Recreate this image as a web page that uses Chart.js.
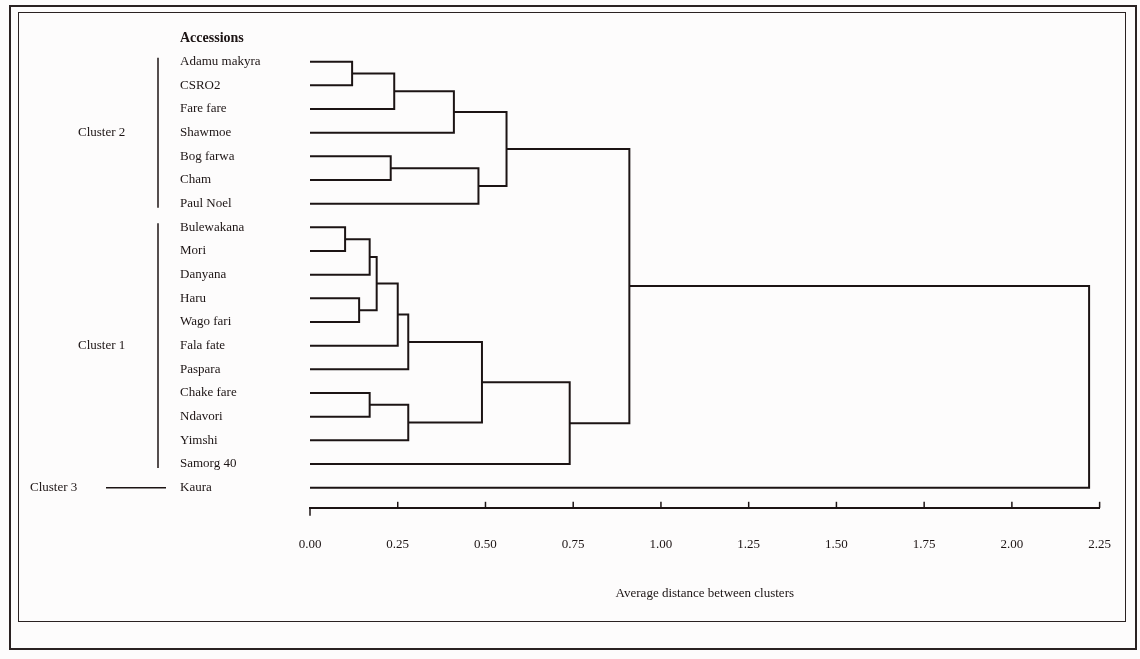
<!DOCTYPE html>
<html>
<head>
<meta charset="utf-8">
<script src="https://cdn.jsdelivr.net/npm/chart.js@4.4.1/dist/chart.umd.min.js"></script>
<style>
  html, body { margin: 0; padding: 0; background: #fdfcfc; }
  #wrap { position: relative; width: 1140px; height: 659px; }
  canvas { position: absolute; left: 0; top: 0; }
  .frame { position: absolute; border: 2px solid #2a2222; pointer-events: none; }
</style>
</head>
<body>
<div id="wrap">
  <canvas id="dendro" width="1140" height="659"></canvas>
  <div class="frame" style="left:9px; top:5px; width:1124px; height:641px;"></div>
  <div class="frame" style="left:18px; top:12px; width:1106px; height:608px; border-width:1.5px;"></div>
</div>
<script>
// leaves, top to bottom
var accessions = ['Adamu makyra', 'CSRO2', 'Fare fare', 'Shawmoe', 'Bog farwa', 'Cham', 'Paul Noel',
  'Bulewakana', 'Mori', 'Danyana', 'Haru', 'Wago fari', 'Fala fate', 'Paspara',
  'Chake fare', 'Ndavori', 'Yimshi', 'Samorg 40', 'Kaura'];

// merges: left node, right node (leaf = index, merged node = 19 + merge index)
var mergeLeft  = [0, 19, 20, 4, 22, 21, 7, 25, 10, 26, 28, 29, 14, 31, 30, 33, 24, 35];
var mergeRight = [1, 2, 3, 5, 6, 23, 8, 9, 11, 27, 12, 13, 15, 16, 32, 17, 34, 18];
var mergeHeight = [0.12, 0.24, 0.41, 0.23, 0.48, 0.56, 0.10, 0.17, 0.14, 0.19, 0.25, 0.28, 0.17, 0.28, 0.49, 0.74, 0.91, 2.22];

var xTicks = [0, 0.25, 0.5, 0.75, 1.0, 1.25, 1.5, 1.75, 2.0, 2.25];

var clusterNames = ['Cluster 2', 'Cluster 1', 'Cluster 3'];
var clusterFirst = [0, 7, 18];
var clusterLast  = [6, 17, 18];

var ink = '#1c1414';
var serif = '"Liberation Serif", "DejaVu Serif", serif';

// node positions
var nodeY = accessions.map(function (_, i) { return i; });
var nodeH = accessions.map(function () { return 0; });
var datasets = [];
for (var m = 0; m < mergeLeft.length; m++) {
  var a = mergeLeft[m], b = mergeRight[m], h = mergeHeight[m];
  datasets.push({
    data: [
      { x: nodeH[a], y: nodeY[a] },
      { x: h, y: nodeY[a] },
      { x: h, y: nodeY[b] },
      { x: nodeH[b], y: nodeY[b] }
    ],
    showLine: true,
    borderColor: ink,
    borderWidth: 2,
    pointRadius: 0,
    tension: 0
  });
  nodeY.push((nodeY[a] + nodeY[b]) / 2);
  nodeH.push(h);
}

var extras = {
  id: 'extras',
  afterDraw: function (chart) {
    var ctx = chart.ctx, xs = chart.scales.x, ys = chart.scales.y;
    ctx.save();
    ctx.strokeStyle = ink;
    ctx.fillStyle = ink;
    ctx.lineWidth = 1.5;
    // ticks pointing up from the axis line
    var base = chart.chartArea.bottom;
    xTicks.forEach(function (v, i) {
      var px = xs.getPixelForValue(v);
      ctx.beginPath();
      if (i === 0) { ctx.moveTo(px, base); ctx.lineTo(px, base + 8); }
      else { ctx.moveTo(px, base); ctx.lineTo(px, base - 6); }
      ctx.stroke();
    });
    // cluster brackets
    ctx.font = '13px ' + serif;
    ctx.textBaseline = 'middle';
    ctx.textAlign = 'left';
    for (var c = 0; c < clusterNames.length; c++) {
      var y0 = ys.getPixelForValue(clusterFirst[c]);
      var y1 = ys.getPixelForValue(clusterLast[c]);
      if (clusterFirst[c] === clusterLast[c]) {
        ctx.fillText(clusterNames[c], 30, y0);
        ctx.beginPath(); ctx.moveTo(106, y0); ctx.lineTo(166, y0); ctx.stroke();
      } else {
        ctx.beginPath(); ctx.moveTo(158, y0 - 4); ctx.lineTo(158, y1 + 4); ctx.stroke();
        ctx.fillText(clusterNames[c], 78, (y0 + y1) / 2);
      }
    }
    ctx.restore();
  }
};

new Chart(document.getElementById('dendro'), {
  type: 'scatter',
  data: { datasets: datasets },
  options: {
    responsive: false,
    animation: false,
    events: [],
    layout: { padding: { left: 180, right: 0, top: 38, bottom: 58 } },
    plugins: { legend: { display: false }, tooltip: { enabled: false } },
    scales: {
      x: {
        type: 'linear',
        min: 0,
        max: 2.25,
        afterBuildTicks: function (scale) { scale.ticks = xTicks.map(function (v) { return { value: v }; }); },
        grid: { display: false, drawTicks: false },
        border: { display: true, color: ink, width: 2 },
        ticks: {
          padding: 29,
          color: ink,
          font: { family: serif, size: 13 },
          maxRotation: 0,
          callback: function (v) { return Number(v).toFixed(2); }
        },
        title: {
          display: true,
          text: 'Average distance between clusters',
          color: ink,
          font: { family: serif, size: 13 },
          padding: { top: 4, bottom: 0 }
        }
      },
      y: {
        type: 'linear',
        reverse: true,
        min: -1,
        max: 18.85,
        afterBuildTicks: function (scale) {
          var t = [{ value: -1 }];
          accessions.forEach(function (_, i) { t.push({ value: i }); });
          scale.ticks = t;
        },
        afterFit: function (scale) { scale.width = 130; },
        grid: { display: false, drawTicks: false },
        border: { display: false },
        ticks: {
          crossAlign: 'far',
          color: ink,
          autoSkip: false,
          font: function (ctx) {
            return ctx.tick && ctx.tick.value === -1
              ? { family: serif, size: 14, weight: 'bold' }
              : { family: serif, size: 13 };
          },
          callback: function (v) { return v === -1 ? 'Accessions' : accessions[v]; }
        }
      }
    }
  },
  plugins: [extras]
});
</script>
</body>
</html>
